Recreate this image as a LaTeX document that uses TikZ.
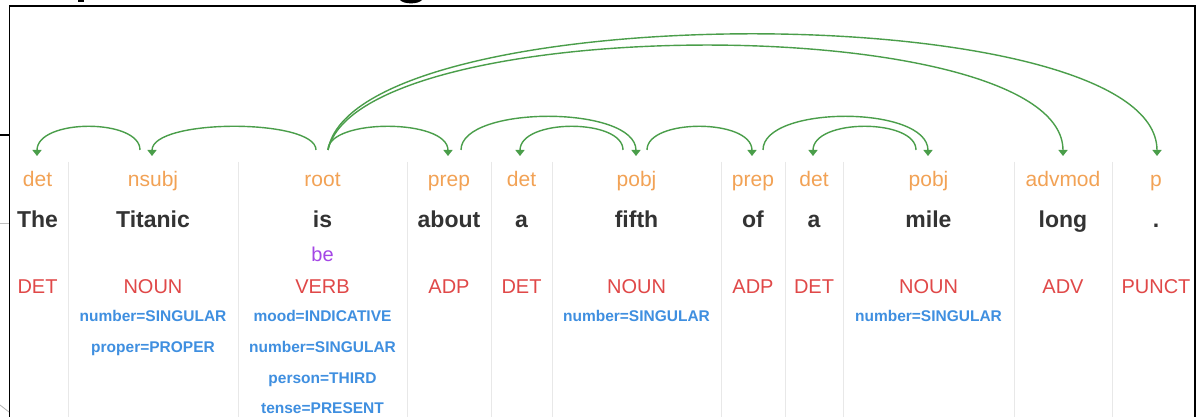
\documentclass[tikz,border=0pt]{standalone}
\usepackage{fontspec}
\setmainfont{Liberation Sans}
\usetikzlibrary{arrows.meta}
\definecolor{arcgreen}{HTML}{4A9E4A}
\definecolor{relorange}{HTML}{F2A255}
\definecolor{posred}{HTML}{E04848}
\definecolor{featblue}{HTML}{3F8FE0}
\definecolor{lemmapurple}{HTML}{A446E6}
\definecolor{wordgray}{HTML}{333333}
\definecolor{sepgray}{HTML}{E8E8E8}
\begin{document}
\begin{tikzpicture}[x=1pt,y=-1pt,
  arcline/.style={draw=arcgreen, line width=1.4pt, -{Triangle[width=9pt,length=6pt]}},
  reltext/.style={anchor=base, inner sep=0pt, text=relorange, font=\fontsize{21}{21}\selectfont},
  wordtext/.style={anchor=base, inner sep=0pt, text=wordgray, font=\fontsize{23}{23}\selectfont\bfseries},
  postext/.style={anchor=base, inner sep=0pt, text=posred, font=\fontsize{20}{20}\selectfont},
  lemmatext/.style={anchor=base, inner sep=0pt, text=lemmapurple, font=\fontsize{20}{20}\selectfont},
  feattext/.style={anchor=base, inner sep=0pt, text=featblue, font=\fontsize{15.5}{15.5}\selectfont\bfseries},
  sepline/.style={draw=sepgray, line width=1pt},
  framel/.style={draw=black, line width=1.5pt}]
\useasboundingbox (0,0) rectangle (1203,417);
\fill[white] (0,0) rectangle (1203,417);
% fragments of heading above the frame
\fill[black] (78,0) rectangle (84,2.2);
\fill[black] (400,0) .. controls (404,4.5) and (418,4.5) .. (422,0) -- cycle;
% frame
\draw[framel] (9.5,417) -- (9.5,6) -- (1195,6) -- (1195,417);
\draw[black, line width=1.2pt] (0,135) -- (9.5,135);
\draw[gray!50, line width=0.8pt] (0,223) -- (9,223);
\draw[gray!60, line width=0.8pt] (0,405) -- (9,412);
% column separators
\foreach \sx in {68,238,407,491,552,721,785,843,1014,1112}
  \draw[sepline] (\sx,162) -- (\sx,417);
% columns
\foreach \i/\colx/\rl/\wrd/\ps in {1/37.5/det/The/DET, 2/153/nsubj/Titanic/NOUN, 3/322.5/root/is/VERB,
   4/449/prep/about/ADP, 5/521.5/det/a/DET, 6/636.5/pobj/fifth/NOUN, 7/753/prep/of/ADP,
   8/814/det/a/DET, 9/928.5/pobj/mile/NOUN, 10/1063/advmod/long/ADV, 11/1156/p/./PUNCT} {
  \node[reltext] (r\i) at (\colx,187) {\rl};
  \node[wordtext] (w\i) at (\colx,227) {\wrd};
  \node[postext] (p\i) at (\colx,293) {\ps};
}
\node[lemmatext] (lem3) at (322.5,261) {be};
\node[feattext] (f2a) at (153,321) {number=SINGULAR};
\node[feattext] (f2b) at (153,352) {proper=PROPER};
\node[feattext] (f3a) at (322.5,321) {mood=INDICATIVE};
\node[feattext] (f3b) at (322.5,352) {number=SINGULAR};
\node[feattext] (f3c) at (322.5,383) {person=THIRD};
\node[feattext] (f3d) at (322.5,413) {tense=PRESENT};
\node[feattext] (f6a) at (636.5,321) {number=SINGULAR};
\node[feattext] (f9a) at (928.5,321) {number=SINGULAR};
% arc end points
\coordinate (i1) at (37,156);
\coordinate (i2) at (152,156);
\coordinate (i4) at (448,156);
\coordinate (i5) at (520,156);
\coordinate (i6) at (636,156);
\coordinate (i7) at (752,156);
\coordinate (i8) at (813,156);
\coordinate (i9) at (928,156);
\coordinate (i10) at (1063,156);
\coordinate (i11) at (1157,156);
\coordinate (o2) at (140,150);
\coordinate (o3a) at (316,150);
\coordinate (o3b) at (328,150);
\coordinate (o4) at (461,150);
\coordinate (o6a) at (623,150);
\coordinate (o6b) at (647,150);
\coordinate (o7) at (763,150);
\coordinate (o9) at (916,150);
\coordinate (lo) at (0,118.3);
\coordinate (hi) at (0,105);
% arcs
\draw[arcline] (o2) .. controls (o2 |- lo) and (i1 |- lo) .. (i1);
\draw[arcline] (o3a) .. controls (o3a |- lo) and (i2 |- lo) .. (i2);
\draw[arcline] (o3b) .. controls (o3b |- lo) and (i4 |- lo) .. (i4);
\draw[arcline] (o4) .. controls (o4 |- hi) and (i6 |- hi) .. (i6);
\draw[arcline] (o6a) .. controls (o6a |- lo) and (i5 |- lo) .. (i5);
\draw[arcline] (o6b) .. controls (o6b |- lo) and (i7 |- lo) .. (i7);
\draw[arcline] (o7) .. controls (o7 |- hi) and (i9 |- hi) .. (i9);
\draw[arcline] (o9) .. controls (o9 |- lo) and (i8 |- lo) .. (i8);
\draw[arcline] (o3b) .. controls (360,10) and (1063,10) .. (i10);
\draw[arcline] (o3b) .. controls (355,-5) and (1157,-5) .. (i11);
\end{tikzpicture}
\end{document}
